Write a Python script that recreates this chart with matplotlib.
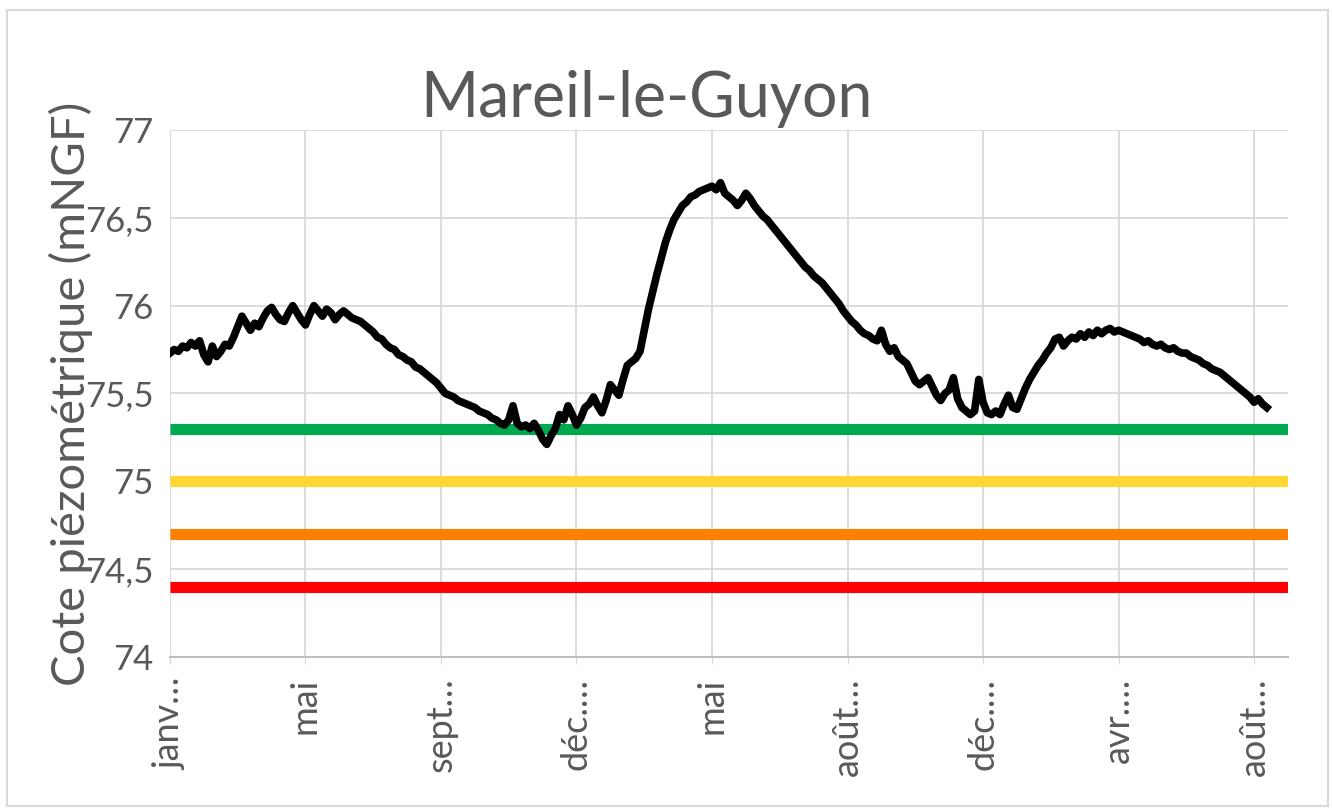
import matplotlib.pyplot as plt
from matplotlib.patches import Rectangle

niveaux = [
    75.73, 75.75, 75.74, 75.77, 75.76, 75.79, 75.77, 75.80,
    75.72, 75.68, 75.77, 75.71, 75.74, 75.78, 75.77, 75.82,
    75.88, 75.94, 75.90, 75.86, 75.90, 75.88, 75.93, 75.97,
    75.99, 75.95, 75.92, 75.91, 75.96, 76.00, 75.96, 75.92,
    # mai
    75.89, 75.95, 76.00, 75.97, 75.94, 75.98, 75.96, 75.92,
    75.95, 75.97, 75.95, 75.93, 75.92, 75.91, 75.89, 75.87,
    75.85, 75.82, 75.81, 75.78, 75.76, 75.75, 75.72, 75.71,
    75.69, 75.68, 75.65, 75.64, 75.62, 75.60, 75.58, 75.56,
    # sept
    75.53, 75.50, 75.49, 75.48, 75.46, 75.45, 75.44, 75.43,
    75.42, 75.40, 75.39, 75.38, 75.36, 75.35, 75.33, 75.32,
    75.35, 75.43, 75.33, 75.31, 75.32, 75.30, 75.33, 75.29,
    75.24, 75.21, 75.26, 75.30, 75.38, 75.35, 75.43, 75.38,
    # dec
    75.32, 75.36, 75.42, 75.44, 75.48, 75.43, 75.39, 75.46,
    75.55, 75.52, 75.49, 75.58, 75.66, 75.68, 75.70, 75.74,
    75.86, 75.98, 76.08, 76.18, 76.27, 76.36, 76.43, 76.49,
    76.53, 76.57, 76.59, 76.62, 76.63, 76.65, 76.66, 76.67,
    # mai
    76.68, 76.66, 76.70, 76.64, 76.62, 76.60, 76.57, 76.60,
    76.64, 76.61, 76.57, 76.54, 76.51, 76.49, 76.46, 76.43,
    76.40, 76.37, 76.34, 76.31, 76.28, 76.25, 76.22, 76.20,
    76.17, 76.15, 76.13, 76.10, 76.07, 76.04, 76.01, 75.97,
    # aout
    75.94, 75.91, 75.89, 75.86, 75.84, 75.83, 75.81, 75.80,
    75.86, 75.78, 75.74, 75.76, 75.71, 75.69, 75.67, 75.62,
    75.57, 75.55, 75.57, 75.59, 75.54, 75.49, 75.46, 75.50,
    75.52, 75.59, 75.47, 75.42, 75.40, 75.38, 75.40, 75.58,
    # dec
    75.45, 75.39, 75.38, 75.40, 75.38, 75.44, 75.49, 75.42,
    75.41, 75.47, 75.53, 75.58, 75.62, 75.66, 75.69, 75.73,
    75.76, 75.81, 75.82, 75.77, 75.80, 75.82, 75.81, 75.84,
    75.82, 75.85, 75.83, 75.86, 75.84, 75.86, 75.87, 75.85,
    # avr
    75.86, 75.85, 75.84, 75.83, 75.82, 75.81, 75.79, 75.80,
    75.78, 75.77, 75.78, 75.76, 75.75, 75.76, 75.74, 75.73,
    75.73, 75.71, 75.70, 75.69, 75.67, 75.66, 75.64, 75.63,
    75.62, 75.60, 75.58, 75.56, 75.54, 75.52, 75.50, 75.48,
    # aout
    75.45, 75.47, 75.44, 75.42,
]
pas_etiquette = 32
etiquettes = ['janv…', 'mai', 'sept…', 'déc.…', 'mai', 'août…', 'déc.…', 'avr.…', 'août…']

# seuils (vigilance, alerte, alerte renforcee, crise)
seuils = [75.3, 75.0, 74.7, 74.4]
couleurs_seuils = ['#00a84f', '#ffd633', '#ff8000', '#ff0000']

gris = '#595959'
plt.rcParams['font.family'] = ['Lato', 'DejaVu Sans']

fig = plt.figure(figsize=(13.33, 8.1), dpi=100)
ax = fig.add_axes([0.1275, 0.189, 0.8387, 0.6505])

x = list(range(len(niveaux)))
for s, c in zip(seuils, couleurs_seuils):
    ax.axhline(s, color=c, lw=8, solid_capstyle='butt', zorder=2)
ax.plot(x, niveaux, color='black', lw=5.5, solid_joinstyle='round', zorder=3)

ax.set_xlim(0, 8.25 * pas_etiquette)
ax.set_ylim(74, 77)
ax.set_xticks([i * pas_etiquette for i in range(len(etiquettes))])
ax.set_xticklabels(etiquettes, rotation=90, fontsize=26, color=gris)
ax.set_yticks([74, 74.5, 75, 75.5, 76, 76.5, 77])
ax.set_yticklabels(['74', '74,5', '75', '75,5', '76', '76,5', '77'], fontsize=25, color=gris)

ax.grid(True, color='#d9d9d9', lw=1.3, zorder=0)
ax.set_axisbelow(True)
for cote in ['top', 'right', 'left']:
    ax.spines[cote].set_visible(False)
ax.spines['bottom'].set_color('#bfbfbf')
ax.spines['bottom'].set_linewidth(1.5)
ax.tick_params(axis='y', length=0, pad=12)
ax.tick_params(axis='x', length=5, color='#d9d9d9', pad=10)

# le titre de l'axe chevauche un peu les graduations, comme dans l'original
ax.set_ylabel('Cote piézométrique (mNGF)', fontsize=34, color=gris, labelpad=-6)

fig.text(0.485, 0.855, 'Mareil-le-Guyon', fontsize=45, color=gris, ha='center', va='baseline')

# cadre autour du graphique
fig.patches.append(Rectangle((7 / 1333, 4 / 810), 1321 / 1333, 796 / 810, transform=fig.transFigure,
                             fill=False, edgecolor='#d9d9d9', lw=1.5))

fig.savefig('out.png', dpi=100)
